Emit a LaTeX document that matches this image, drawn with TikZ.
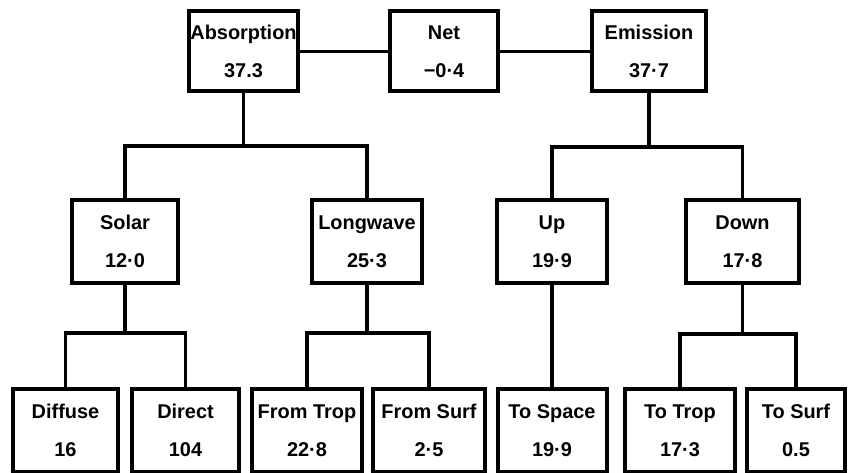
\documentclass[tikz,border=0pt]{standalone}
\usepackage{fontspec}
\setmainfont{Liberation Sans}
\usetikzlibrary{positioning}

\begin{document}
\begin{tikzpicture}[x=0.5bp,y=-0.5bp,line width=1.8bp,
    every node/.style={font=\bfseries\fontsize{10}{19}\selectfont},
    box/.style={draw,line width=2bp,align=center,inner sep=0pt,minimum height=40bp}]
    \useasboundingbox (0,0) rectangle (848,473);
    \node[box,minimum width=54.5bp] (abs) at (243.5,51.5) {Absorption\\37.3};
    \node[box,minimum width=54bp] (net) at (444,51.5) {Net\\−0·4};
    \node[box,minimum width=57bp] (emi) at (649,51.5) {Emission\\37·7};
    \node[box,minimum width=53bp,minimum height=41.5bp] (solar) at (125,241.5) {Solar\\12·0};
    \node[box,minimum width=55bp,minimum height=41.5bp] (long) at (367,241.5) {Longwave\\25·3};
    \node[box,minimum width=55bp,minimum height=41.5bp] (up) at (552,241.5) {Up\\19·9};
    \node[box,minimum width=56.5bp,minimum height=41.5bp] (down) at (742.5,241.5) {Down\\17·8};
    \node[box,minimum width=52.5bp,minimum height=41.5bp] (diff) at (65.5,430.5) {Diffuse\\16};
    \node[box,minimum width=53.5bp,minimum height=41.5bp] (dir) at (185.5,430.5) {Direct\\104};
    \node[box,minimum width=55bp,minimum height=41.5bp] (ftrop) at (307,430.5) {From Trop\\22·8};
    \node[box,minimum width=56bp,minimum height=41.5bp] (fsurf) at (429,430.5) {From Surf\\2·5};
    \node[box,minimum width=54.5bp,minimum height=41.5bp] (tspace) at (552,430.5) {To Space\\19·9};
    \node[box,minimum width=55bp,minimum height=41.5bp] (ttrop) at (680,430.5) {To Trop\\17·3};
    \node[box,minimum width=49bp,minimum height=41.5bp] (tsurf) at (796,430.5) {To Surf\\0.5};
    \coordinate (absj) at (abs.south |- 0,146);
    \coordinate (emij) at (emi.south |- 0,147);
    \coordinate (solarj) at (solar.south |- 0,333);
    \coordinate (longj) at (long.south |- 0,333);
    \coordinate (downj) at (down.south |- 0,334);
    \draw (abs) -- (net) -- (emi);
    \draw (abs.south) -- (absj);
    \draw (solar.north) |- (absj) -| (long.north);
    \draw (emi.south) -- (emij);
    \draw (up.north) |- (emij) -| (down.north);
    \draw (solar.south) -- (solarj);
    \draw (diff.north) |- (solarj) -| (dir.north);
    \draw (long.south) -- (longj);
    \draw (ftrop.north) |- (longj) -| (fsurf.north);
    \draw (up) -- (tspace);
    \draw (down.south) -- (downj);
    \draw (ttrop.north) |- (downj) -| (tsurf.north);
\end{tikzpicture}
\end{document}
